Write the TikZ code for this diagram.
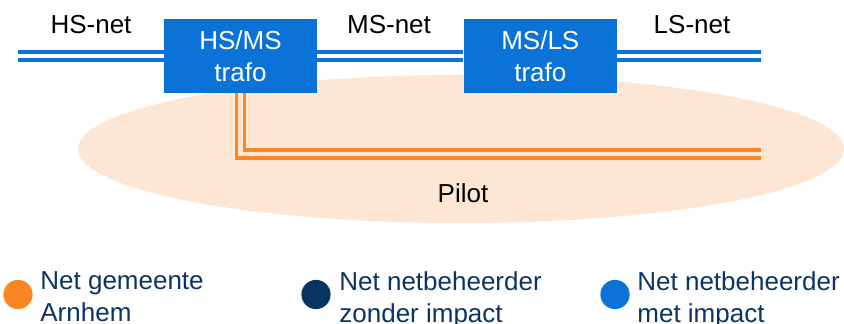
\documentclass[tikz,border=0pt]{standalone}
\usepackage{fontspec}
\setmainfont{Liberation Sans}
\usetikzlibrary{positioning}
\definecolor{gridblue}{RGB}{11,114,216}
\definecolor{gridorange}{RGB}{248,134,35}
\definecolor{gridnavy}{RGB}{8,52,99}
\definecolor{pilotfill}{RGB}{253,230,211}
\definecolor{legink}{RGB}{12,52,98}
\tikzset{
  trafo/.style={
    fill=gridblue, text=white, align=center, inner sep=0pt,
    minimum width=76.5pt, minimum height=37pt,
    font=\fontsize{13}{16}\selectfont
  },
  netlbl/.style={anchor=base, inner sep=0pt, font=\fontsize{13}{16}\selectfont},
  hsline/.style={draw=gridblue, line width=1.9pt, double=white, double distance=2.1pt},
  pline/.style={draw=gridorange, line width=1.9pt, double=pilotfill, double distance=2.1pt},
  legdot/.style={circle, inner sep=0pt, minimum size=14.6pt},
  legtxt/.style={
    anchor=north west, align=left, inner sep=0pt, text=legink,
    font=\fontsize{13}{16}\selectfont
  }
}
\begin{document}
\begin{tikzpicture}[x=0.5pt, y=-0.5pt]
  \useasboundingbox (0,0) rectangle (844,324);
  % pilot area
  \fill[pilotfill] (461,149) ellipse [x radius=191.5pt, y radius=37pt];
  \node[netlbl] (pilot) at (463,202.5) {Pilot};
  % grid
  \node[trafo] (hsms) at (240.5,56) {HS/MS\\trafo};
  \node[trafo, right=73pt of hsms] (msls) {MS/LS\\trafo};
  \coordinate (hsend) at (18,56);
  \coordinate (lsend) at (761,56);
  \coordinate (pend) at (761,154);
  \draw[hsline] (hsend) -- (hsms.west);
  \draw[hsline] (hsms.east) -- (msls.west);
  \draw[hsline] (msls.east) -- (lsend);
  \draw[pline] (hsms.south) |- (pend);
  \node[netlbl] (hsnet) at (91,34) {HS-net};
  \node[netlbl] (msnet) at (389,34) {MS-net};
  \node[netlbl] (lsnet) at (692,34) {LS-net};
  % legend
  \node[legdot, fill=gridorange] (lgA) at (18,294.5) {};
  \node[legdot, fill=gridnavy] (lgB) at (316,294.5) {};
  \node[legdot, fill=gridblue] (lgC) at (615,294.5) {};
  \node[legtxt] (lgAt) at (40,271) {Net gemeente\\Arnhem};
  \node[legtxt] (lgBt) at (339,271) {Net netbeheerder\\zonder impact};
  \node[legtxt] (lgCt) at (637,271) {Net netbeheerder\\met impact};
\end{tikzpicture}
\end{document}
